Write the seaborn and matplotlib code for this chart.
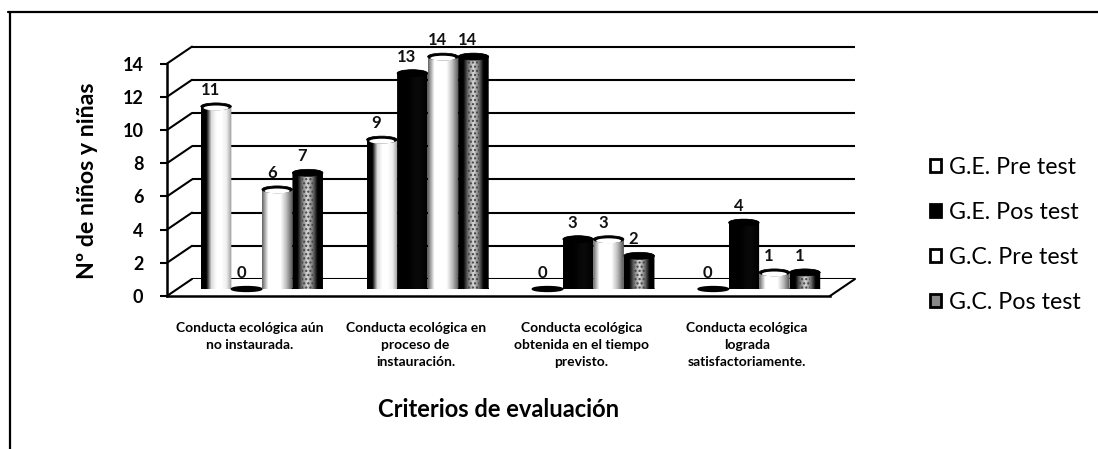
import numpy as np
import pandas as pd
import matplotlib
matplotlib.use('Agg')
import matplotlib.pyplot as plt
import seaborn as sns
from matplotlib.colors import LinearSegmentedColormap
from matplotlib.lines import Line2D
from matplotlib.patches import ConnectionPatch, PathPatch
from matplotlib.path import Path
from matplotlib.transforms import Affine2D

# Datos del grafico
categorias = ['Conducta ecológica aún\nno instaurada.',
              'Conducta ecológica en\nproceso de\ninstauración.',
              'Conducta ecológica\nobtenida en el tiempo\nprevisto.',
              'Conducta ecológica\nlograda\nsatisfactoriamente.']
series = ['G.E. Pre test', 'G.E. Pos test', 'G.C. Pre test', 'G.C. Pos test']
ge_pre = [11, 9, 0, 0]
ge_pos = [0, 13, 3, 4]
gc_pre = [6, 14, 3, 1]
gc_pos = [7, 14, 2, 1]
ticks_y = [0, 2, 4, 6, 8, 10, 12, 14]

df = pd.DataFrame({'categoria': categorias * 4,
                   'serie': np.repeat(series, 4),
                   'valor': ge_pre + ge_pos + gc_pre + gc_pos})

sns.set_theme(style='white')
plt.rcParams['font.family'] = ['Lato', 'DejaVu Sans']

W, H = 1098, 449
fig = plt.figure(figsize=(W / 100, H / 100), dpi=100)


def caja(izq, abajo, ancho=663, alto=241):
    return [izq / W, 1 - abajo / H, ancho / W, alto / H]


def tamano(texto, ancho_px, peso='normal'):
    # tamano de letra para que el texto mida ancho_px
    t = fig.text(0, 0, texto, fontsize=10, fontweight=peso)
    ancho = t.get_window_extent(fig.canvas.get_renderer()).width
    t.remove()
    return 10 * ancho_px / ancho


ymax = 241 / 16.6
ax_back = fig.add_axes(caja(192, 279), zorder=0)
ax_front = fig.add_axes(caja(167, 296), zorder=1)
ax = fig.add_axes(caja(179, 289), zorder=2)
for a in (ax_back, ax_front, ax):
    a.patch.set_visible(False)
    a.set_xlim(-0.5, 3.5)
    a.set_ylim(0, ymax)

# pared del fondo
ax_back.set_yticks(ticks_y)
ax_back.set_xticks([])
ax_back.tick_params(left=False, labelleft=False)
ax_back.yaxis.grid(True, color='black', lw=1.5)
ax_back.set_axisbelow(True)
sns.despine(ax=ax_back, left=True, bottom=True)

# barras
sns.barplot(data=df, x='categoria', y='valor', hue='serie', hue_order=series,
            order=categorias, palette=['white', 'black', 'white', '#777777'],
            width=0.737, gap=0, edgecolor='black', linewidth=1.2, ax=ax, legend=True)
ax.set_xlim(-0.5, 3.5)
ax.set_ylim(0, ymax)
ax.set_xlabel('')
ax.set_ylabel('')
ax.set_xticks([])
ax.set_yticks([])
sns.despine(ax=ax, left=True, bottom=True)

# sombreado cilindrico de cada serie
mapas = [
    LinearSegmentedColormap.from_list('a', ['black', 'black', '#dddddd', 'white', 'white', '#eeeeee', '#999999']),
    LinearSegmentedColormap.from_list('b', ['black', 'black', '#0a0a0a', 'black']),
    LinearSegmentedColormap.from_list('c', ['#666666', 'white', 'white', 'white', '#bbbbbb', '#555555']),
    LinearSegmentedColormap.from_list('d', ['black', 'black', '#777777', '#dddddd', '#777777', 'black', 'black']),
]
ry = 3.5 / 16.6
rampa = np.linspace(0, 1, 64).reshape(1, -1)
for cont, cmap, nombre in zip(ax.containers, mapas, series):
    for barra in cont:
        x0, w, h = barra.get_x(), barra.get_width(), barra.get_height()
        barra.set_visible(False)
        if h == 0:
            elipse = Affine2D().scale(w / 2, ry * 0.7).translate(x0 + w / 2, 0)
            ax.add_patch(PathPatch(elipse.transform_path(Path.unit_circle()),
                                   fc='black', ec='black', zorder=3, clip_on=False))
            continue
        cuerpo = Affine2D().scale(w, h).translate(x0, 0).transform_path(Path.unit_rectangle())
        abajo = Affine2D().scale(w / 2, ry).translate(x0 + w / 2, 0).transform_path(Path.unit_circle())
        arriba = Affine2D().scale(w / 2, ry).translate(x0 + w / 2, h).transform_path(Path.unit_circle())
        forma = Path.make_compound_path(cuerpo, abajo, arriba)
        im = ax.imshow(rampa, extent=[x0, x0 + w, -ry, h + ry], cmap=cmap, vmin=0, vmax=1,
                       aspect='auto', zorder=3)
        fondo = PathPatch(forma, fc='none', ec='none', transform=ax.transData)
        ax.add_patch(fondo)
        im.set_clip_path(fondo)
        im.set_clip_on(True)
        # tapa superior oscura
        tapa = Affine2D().scale(w / 2, ry).translate(x0 + w / 2, h).transform_path(Path.unit_circle())
        ax.add_patch(PathPatch(tapa, fc='black', ec='black', lw=0.5, zorder=3.2, clip_on=False))
        if nombre in ('G.E. Pre test', 'G.C. Pre test'):
            interior = Affine2D().scale(w / 2 * 0.82, ry * 0.7).translate(x0 + w / 2, h - ry * 0.45)
            ax.add_patch(PathPatch(interior.transform_path(Path.unit_circle()), fc='white', ec='none',
                                   zorder=3.3, clip_on=False))
        if nombre == 'G.C. Pos test':
            ax.add_patch(PathPatch(Affine2D().scale(w * 0.36, h).translate(x0 + w * 0.32, 0).transform_path(Path.unit_rectangle()),
                                   fc='none', ec='#444444', hatch='....', lw=0, zorder=3.1))
    etiquetas = ax.bar_label(cont, labels=[str(int(b.get_height())) for b in cont], padding=6,
                             fontsize=12, fontweight='bold', color='#111111', zorder=4)
    for et in etiquetas:
        et.xyann = (-4, et.xyann[1])
ax.set_xlim(-0.5, 3.5)
ax.set_ylim(0, ymax)

# eje frontal
ax_front.set_yticks(ticks_y)
ax_front.set_xticks(range(4))
ax_front.set_xticklabels(categorias, fontsize=tamano('Conducta ecológica aún', 148, 'bold'),
                         fontweight='bold', linespacing=1.5)
ax_front.tick_params(axis='x', length=0, pad=19, colors='black')
ax_front.tick_params(axis='y', left=True, length=5, width=1.5, color='black', pad=12, labelsize=13)
for t in ax_front.get_yticklabels():
    t.set_fontweight('bold')
    t.set_color('black')
sns.despine(ax=ax_front)
ax_front.spines['left'].set_bounds(0, 14)
ax_front.spines['left'].set_linewidth(1.8)
ax_front.spines['left'].set_color('black')
ax_front.spines['bottom'].set_linewidth(1.8)
ax_front.spines['bottom'].set_color('black')
ax_front.set_ylabel('Nº de niños y niñas', fontsize=tamano('Nº de niños y niñas', 197, 'bold'),
                    fontweight='bold', color='black')
ax_front.yaxis.set_label_coords(-0.104, 0.48)
ax_front.set_xlabel('Criterios de evaluación', fontsize=tamano('Criterios de evaluación', 243, 'bold'),
                    fontweight='bold', color='black')
ax_front.xaxis.set_label_coords(0.5, -0.425)

# diagonales entre el eje y la pared
for v in ticks_y:
    fig.add_artist(ConnectionPatch((-0.5, v), (-0.5, v), 'data', 'data', axesA=ax_front, axesB=ax_back,
                                   color='black', lw=1.5, zorder=0.5))
fig.add_artist(ConnectionPatch((3.5, 0), (3.5, 0), 'data', 'data', axesA=ax_front, axesB=ax_back,
                               color='black', lw=1.5, zorder=0.5))

# leyenda
handles, labels = ax.get_legend_handles_labels()
ax.legend_.remove()
for hd, cara in zip(handles, ['white', 'black', 'white', '#888888']):
    hd.set_visible(True)
    hd.set_facecolor(cara)
    hd.set_edgecolor('black')
    hd.set_linewidth(2)
fs_leyenda = tamano('G.E. Pre test', 127)
fig.legend(handles, labels, loc='center left', bbox_to_anchor=(930 / W, 1 - 235 / H), frameon=False,
           fontsize=fs_leyenda, labelspacing=(45 * 0.72 - fs_leyenda * 0.9) / fs_leyenda,
           handlelength=8 / fs_leyenda, handleheight=8 / fs_leyenda, handletextpad=6 / fs_leyenda,
           labelcolor='black', borderpad=0, borderaxespad=0)

# marco de la imagen
fig.add_artist(Line2D([8 / W, 1], [1 - 12 / H, 1 - 12 / H], color='black', lw=1.6))
fig.add_artist(Line2D([10 / W, 10 / W], [0, 1 - 12 / H], color='black', lw=1.6))

fig.savefig('out.png', dpi=100, facecolor='white')
